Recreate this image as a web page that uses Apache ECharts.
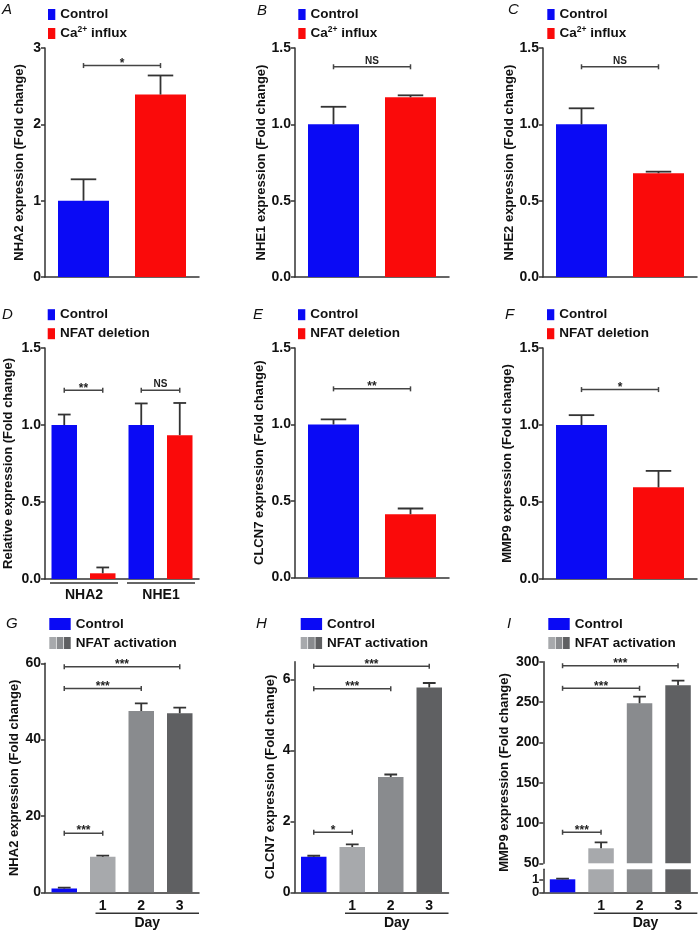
<!DOCTYPE html>
<html>
<head>
<meta charset="utf-8">
<script src="https://cdn.jsdelivr.net/npm/echarts@6/dist/echarts.min.js"></script>
<style>
  html, body { margin: 0; padding: 0; background: #fff; }
  #chart { width: 700px; height: 932px; }
</style>
</head>
<body>
<div id="chart"></div>
<script>
// expression panels
const caCats = ['Control', 'Ca2+ influx'];
const delCats = ['Control', 'NFAT deletion'];
const relCats = ['NHA2 Control', 'NHA2 NFAT deletion', 'NHE1 Control', 'NHE1 NFAT deletion'];
const relGroups = ['NHA2', 'NHE1'];
const dayLabels = ['', '1', '2', '3'];

const nha2Ca = [1.0, 2.39];
const nha2CaErr = [1.28, 2.64];
const nhe1Ca = [1.0, 1.177];
const nhe1CaErr = [1.115, 1.19];
const nhe2Ca = [1.0, 0.68];
const nhe2CaErr = [1.105, 0.69];

const relDel = [1.0, 0.037, 1.0, 0.934];
const relDelErr = [1.068, 0.075, 1.14, 1.143];
const clcn7Del = [1.0, 0.414];
const clcn7DelErr = [1.033, 0.451];
const mmp9Del = [1.0, 0.595];
const mmp9DelErr = [1.064, 0.702];

const nha2Act = [1.0, 9.3, 47.5, 46.9];
const nha2ActErr = [1.2, 9.6, 49.5, 48.4];
const clcn7Act = [1.0, 1.28, 3.25, 5.77];
const clcn7ActErr = [1.03, 1.35, 3.32, 5.9];
const mmp9Act = [1.0, 68.6, 248.5, 270.8];
const mmp9ActErr = [1.05, 76, 256.7, 276.5];

// significance brackets: [from, to, y, label]
const sigA = [[0, 1, 2.77, '*']];
const sigB = [[0, 1, 1.377, 'NS']];
const sigC = [[0, 1, 1.377, 'NS']];
const sigD = [[0, 1, 1.226, '**'], [2, 3, 1.226, 'NS']];
const sigE = [[0, 1, 1.233, '**']];
const sigF = [[0, 1, 1.23, '*']];
const sigG = [[0, 1, 15.5, '***'], [0, 2, 53.4, '***'], [0, 3, 59.1, '***']];
const sigH = [[0, 1, 1.69, '*'], [0, 2, 5.74, '***'], [0, 3, 6.37, '***']];
const sigI = [[0, 1, 88.5, '***'], [0, 2, 267, '***'], [0, 3, 295, '***']];

const BLUE = '#0a0af5', RED = '#fa0a0a';
const G1 = '#a7a9ac', G2 = '#898b8e', G3 = '#5f6062';
const AX = '#333';
const TXT = '#111';
const FONT = '"Liberation Sans", Arial, sans-serif';

const fmt0 = v => String(v);
const fmt1 = v => v.toFixed(1);

const panels = [
  { grid: { left: 45, top: 48, width: 154, height: 229 }, cats: caCats, vals: nha2Ca, errs: nha2CaErr,
    colors: [BLUE, RED], yMin: 0, yMax: 3, yInt: 1, fmt: fmt0, name: 'NHA2 expression (Fold change)', nameGap: 19, barWidth: 51, sig: sigA },
  { grid: { left: 295, top: 48, width: 154, height: 229 }, cats: caCats, vals: nhe1Ca, errs: nhe1CaErr,
    colors: [BLUE, RED], yMin: 0, yMax: 1.5, yInt: 0.5, fmt: fmt1, name: 'NHE1 expression (Fold change)', nameGap: 23, barWidth: 51, sig: sigB },
  { grid: { left: 543, top: 48, width: 154, height: 229 }, cats: caCats, vals: nhe2Ca, errs: nhe2CaErr,
    colors: [BLUE, RED], yMin: 0, yMax: 1.5, yInt: 0.5, fmt: fmt1, name: 'NHE2 expression (Fold change)', nameGap: 22, barWidth: 51, sig: sigC },
  { grid: { left: 45, top: 348, width: 154, height: 231 }, cats: relCats, vals: relDel, errs: relDelErr,
    colors: [BLUE, RED, BLUE, RED], yMin: 0, yMax: 1.5, yInt: 0.5, fmt: fmt1, name: 'Relative expression (Fold change)', nameGap: 30, barWidth: 25.5, sig: sigD, groups: true },
  { grid: { left: 295, top: 348, width: 154, height: 229.5 }, cats: delCats, vals: clcn7Del, errs: clcn7DelErr,
    colors: [BLUE, RED], yMin: 0, yMax: 1.5, yInt: 0.5, fmt: fmt1, name: 'CLCN7 expression (Fold change)', nameGap: 29, barWidth: 51, sig: sigE },
  { grid: { left: 543, top: 348, width: 154, height: 231 }, cats: delCats, vals: mmp9Del, errs: mmp9DelErr,
    colors: [BLUE, RED], yMin: 0, yMax: 1.5, yInt: 0.5, fmt: fmt1, name: 'MMP9 expression (Fold change)', nameGap: 29, barWidth: 51, sig: sigF },
  { grid: { left: 45, top: 663.3, width: 154, height: 229 }, cats: dayLabels, vals: nha2Act, errs: nha2ActErr,
    colors: [BLUE, G1, G2, G3], yMin: 0, yMax: 60, yInt: 20, fmt: fmt0, name: 'NHA2 expression (Fold change)', nameGap: 24, barWidth: 25.5, sig: sigG, days: true },
  { grid: { left: 294.5, top: 661.7, width: 154, height: 230.6 }, cats: dayLabels, vals: clcn7Act, errs: clcn7ActErr,
    colors: [BLUE, G1, G2, G3], yMin: 0, yMax: 6.5, yInt: 2, fmt: fmt0, name: 'CLCN7 expression (Fold change)', nameGap: 18, barWidth: 25.5, sig: sigH, days: true, noMax: true },
  // panel I, upper part of the broken axis
  { grid: { left: 543.3, top: 661.7, width: 154, height: 201.6 }, cats: dayLabels, vals: mmp9Act, errs: mmp9ActErr,
    colors: [BLUE, G1, G2, G3], yMin: 50, yMax: 300, yInt: 50, fmt: fmt0, name: 'MMP9 expression (Fold change)', nameGap: 32, barWidth: 25.5, sig: sigI, hideX: true, namePad: [0, 20, 0, 0] },
  // panel I, lower part of the broken axis
  { grid: { left: 543.3, top: 869.3, width: 154, height: 23 }, cats: dayLabels, vals: mmp9Act, errs: mmp9ActErr,
    colors: [BLUE, G1, G2, G3], yMin: 0, yMax: 1.77, yInt: 1, fmt: fmt0, name: '', nameGap: 0, barWidth: 25.5, sig: [], days: true, noMax: true, tickFont: 13 }
];

function errorSeries(idx, vals, errs, capHalf) {
  return {
    type: 'custom', xAxisIndex: idx, yAxisIndex: idx, clip: true, z: 3,
    data: vals.map((v, i) => [i, v, errs[i]]),
    encode: { x: 0, y: [1, 2] },
    renderItem(params, api) {
      const p0 = api.coord([api.value(0), api.value(1)]);
      const p1 = api.coord([api.value(0), api.value(2)]);
      return {
        type: 'group',
        children: [
          { type: 'line', shape: { x1: p0[0], y1: p0[1], x2: p1[0], y2: p1[1] }, style: { stroke: AX, lineWidth: 1.8 } },
          { type: 'line', shape: { x1: p1[0] - capHalf, y1: p1[1], x2: p1[0] + capHalf, y2: p1[1] }, style: { stroke: AX, lineWidth: 1.8 } }
        ]
      };
    }
  };
}

function sigSeries(idx, sigs) {
  return {
    type: 'custom', xAxisIndex: idx, yAxisIndex: idx, clip: false, z: 4,
    data: sigs.map(s => [s[0], s[1], s[2]]),
    encode: { x: [0, 1], y: 2 },
    renderItem(params, api) {
      const a = api.coord([api.value(0), api.value(2)]);
      const b = api.coord([api.value(1), api.value(2)]);
      const label = sigs[params.dataIndex][3];
      const star = label.indexOf('*') >= 0;
      return {
        type: 'group',
        children: [
          { type: 'line', shape: { x1: a[0], y1: a[1], x2: b[0], y2: b[1] }, style: { stroke: '#444', lineWidth: 1.5 } },
          { type: 'line', shape: { x1: a[0], y1: a[1] - 2.5, x2: a[0], y2: a[1] + 2.5 }, style: { stroke: '#444', lineWidth: 1.5 } },
          { type: 'line', shape: { x1: b[0], y1: b[1] - 2.5, x2: b[0], y2: b[1] + 2.5 }, style: { stroke: '#444', lineWidth: 1.5 } },
          { type: 'text', x: (a[0] + b[0]) / 2, y: a[1] + (star ? 4 : -1),
            style: { text: label, fill: '#222', font: 'bold ' + (star ? 12 : 10) + 'px ' + FONT, align: 'center', verticalAlign: 'bottom' } }
        ]
      };
    }
  };
}

// brackets drawn under the category axis (gene groups in D, "Day" in G-I)
function bracketSeries(idx, spans, labels, lineOff, textOff, insetL, insetR) {
  return {
    type: 'custom', xAxisIndex: idx, yAxisIndex: idx, clip: false, z: 4,
    data: spans.map(s => [s[0], s[1], 0]),
    encode: { x: [0, 1], y: 2 },
    renderItem(params, api) {
      const a = api.coord([api.value(0), 0]);
      const b = api.coord([api.value(1), 0]);
      const band = api.size([1, 0])[0];
      const x1 = a[0] - band / 2 + insetL;
      const x2 = b[0] + band / 2 - insetR;
      return {
        type: 'group',
        children: [
          { type: 'line', shape: { x1, y1: a[1] + lineOff, x2, y2: a[1] + lineOff }, style: { stroke: AX, lineWidth: 1.5 } },
          { type: 'text', x: (x1 + x2) / 2, y: a[1] + textOff,
            style: { text: labels[params.dataIndex], fill: TXT, font: 'bold 14px ' + FONT, align: 'center', verticalAlign: 'middle' } }
        ]
      };
    }
  };
}

const grids = [], xAxes = [], yAxes = [], series = [];
panels.forEach((p, idx) => {
  grids.push(p.grid);
  xAxes.push({
    type: 'category', gridIndex: idx, data: p.cats,
    axisLine: { show: !p.hideX, lineStyle: { color: AX, width: 1.5 } },
    axisTick: { show: false },
    axisLabel: { show: !!p.days && !p.hideX, margin: 7, color: TXT, fontFamily: FONT, fontWeight: 'bold', fontSize: 14 }
  });
  yAxes.push({
    type: 'value', gridIndex: idx, min: p.yMin, max: p.yMax, interval: p.yInt,
    splitLine: { show: false },
    axisLine: { show: true, lineStyle: { color: AX, width: 1.5 } },
    axisTick: { show: true, length: 4, lineStyle: { color: AX, width: 1.5 } },
    axisLabel: { margin: 4, color: TXT, fontFamily: FONT, fontWeight: 'bold', fontSize: p.tickFont || 14, formatter: p.fmt,
      showMaxLabel: p.noMax ? false : null, showMinLabel: true, hideOverlap: false, lineHeight: p.tickFont || 14 },
    name: p.name, nameLocation: 'middle', nameGap: p.nameGap, nameRotate: 90,
    nameTextStyle: { fontFamily: FONT, fontWeight: 'bold', fontSize: 13, color: TXT, padding: p.namePad || 0 }
  });
  series.push({
    type: 'bar', xAxisIndex: idx, yAxisIndex: idx, barWidth: p.barWidth, clip: true,
    data: p.vals.map((v, i) => ({ value: v, itemStyle: { color: p.colors[i] } }))
  });
  series.push(errorSeries(idx, p.vals, p.errs, p.barWidth / 4));
  if (p.sig.length) series.push(sigSeries(idx, p.sig));
  if (p.groups) series.push(bracketSeries(idx, [[0, 1], [2, 3]], relGroups, 4, 16, 5, 4));
  if (p.days) series.push(bracketSeries(idx, [[1, 3]], ['Day'], 21, 31, 12, 0));
});

// legends and panel letters
const legends = [
  { x: 48, y: 14.5, w: 7.3, h: 11, items: [[BLUE], [RED]], texts: ['Control', 'ca'] },
  { x: 298.3, y: 14.5, w: 7.3, h: 11, items: [[BLUE], [RED]], texts: ['Control', 'ca'] },
  { x: 547.3, y: 14.5, w: 7.3, h: 11, items: [[BLUE], [RED]], texts: ['Control', 'ca'] },
  { x: 47.7, y: 314.7, w: 7.3, h: 11, items: [[BLUE], [RED]], texts: ['Control', 'NFAT deletion'] },
  { x: 298, y: 314.7, w: 7.3, h: 11, items: [[BLUE], [RED]], texts: ['Control', 'NFAT deletion'] },
  { x: 547, y: 314.7, w: 7.3, h: 11, items: [[BLUE], [RED]], texts: ['Control', 'NFAT deletion'] },
  { x: 49.3, y: 624, w: 21.4, h: 12, items: [[BLUE], [G1, G2, G3]], texts: ['Control', 'NFAT activation'] },
  { x: 300.7, y: 624, w: 21.4, h: 12, items: [[BLUE], [G1, G2, G3]], texts: ['Control', 'NFAT activation'] },
  { x: 548.3, y: 624, w: 21.4, h: 12, items: [[BLUE], [G1, G2, G3]], texts: ['Control', 'NFAT activation'] }
];
const letters = [['A', 2, 10], ['B', 257, 10.5], ['C', 508, 10], ['D', 2, 315], ['E', 253, 315], ['F', 505, 315],
  ['G', 6, 624], ['H', 256, 624], ['I', 507, 624]];

const graphic = [];
legends.forEach(lg => {
  lg.items.forEach((cols, r) => {
    const cy = lg.y + r * 19;
    if (cols.length === 1) {
      graphic.push({ type: 'rect', shape: { x: lg.x, y: cy - lg.h / 2, width: lg.w, height: lg.h }, style: { fill: cols[0] } });
    } else {
      const sw = (lg.w - 1.4) / 3;
      cols.forEach((c, k) => graphic.push({ type: 'rect', shape: { x: lg.x + k * (sw + 0.7), y: cy - lg.h / 2, width: sw, height: lg.h }, style: { fill: c } }));
    }
    const t = lg.texts[r];
    const style = t === 'ca'
      ? { text: '{a|Ca}{s|2+}{a| influx}', x: lg.x + lg.w + 5, y: cy, verticalAlign: 'middle', textVerticalAlign: 'middle',
          rich: { a: { font: 'bold 13.5px ' + FONT, fill: TXT, color: TXT }, s: { font: 'bold 8.5px ' + FONT, fill: TXT, color: TXT, verticalAlign: 'top', padding: [0, 0, 7, 0] } } }
      : { text: t, x: lg.x + lg.w + 5, y: cy, font: 'bold 13.5px ' + FONT, fill: TXT, verticalAlign: 'middle', textVerticalAlign: 'middle' };
    graphic.push({ type: 'text', style });
  });
});
letters.forEach(([t, x, y]) => graphic.push({ type: 'text', style: { text: t, x, y, font: 'italic 15px ' + FONT, fill: TXT, verticalAlign: 'middle', textVerticalAlign: 'middle' } }));

const chart = echarts.init(document.getElementById('chart'), null, { renderer: 'canvas' });
chart.setOption({
  backgroundColor: '#fff',
  animation: false,
  grid: grids,
  xAxis: xAxes,
  yAxis: yAxes,
  series,
  graphic
});
</script>
</body>
</html>
